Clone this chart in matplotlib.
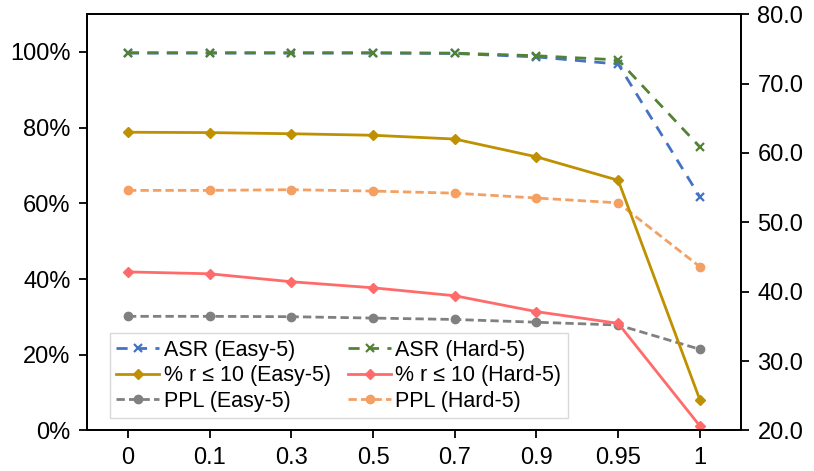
import matplotlib
matplotlib.use("Agg")
import matplotlib.pyplot as plt
from matplotlib.ticker import FuncFormatter

plt.rcParams['font.family'] = ['Liberation Sans', 'DejaVu Sans']

# x categories (evenly spaced)
labels = ['0', '0.1', '0.3', '0.5', '0.7', '0.9', '0.95', '1']

# left axis (fractions)
asr_easy = [0.997, 0.997, 0.997, 0.997, 0.996, 0.987, 0.968, 0.617]
asr_hard = [0.998, 0.998, 0.998, 0.998, 0.997, 0.990, 0.979, 0.749]
r10_easy = [0.788, 0.787, 0.784, 0.780, 0.770, 0.723, 0.661, 0.081]
r10_hard = [0.419, 0.414, 0.393, 0.377, 0.356, 0.314, 0.283, 0.012]

# right axis (PPL)
ppl_easy = [36.45, 36.45, 36.4, 36.2, 36.0, 35.6, 35.2, 31.7]
ppl_hard = [54.6, 54.6, 54.7, 54.5, 54.2, 53.5, 52.8, 43.6]

x = list(range(len(labels)))

fig = plt.figure(figsize=(8.14, 4.71), dpi=100)
ax = fig.add_axes([0.107, 0.086, 0.803, 0.884])
ax2 = ax.twinx()

lw = 2.0
h1, = ax.plot(x, asr_easy, color='#4472C4', ls=(0, (4, 3)), lw=lw, marker='x', ms=6, mew=1.6, label='ASR (Easy-5)')
h2, = ax.plot(x, asr_hard, color='#548235', ls=(0, (4, 3)), lw=lw, marker='x', ms=6, mew=1.6, label='ASR (Hard-5)')
h3, = ax.plot(x, r10_easy, color='#BF9000', ls='-', lw=lw, marker='D', ms=5, label='% r ≤ 10 (Easy-5)')
h4, = ax.plot(x, r10_hard, color='#FF6B6B', ls='-', lw=lw, marker='D', ms=5, label='% r ≤ 10 (Hard-5)')
h5, = ax2.plot(x, ppl_easy, color='#808080', ls=(0, (3, 1.5)), lw=lw, marker='o', ms=6, label='PPL (Easy-5)')
h6, = ax2.plot(x, ppl_hard, color='#F4A062', ls=(0, (3, 1.5)), lw=lw, marker='o', ms=6, label='PPL (Hard-5)')

ax.set_xlim(-0.5, len(labels) - 0.5)
ax.set_ylim(0, 1.1)
ax.set_yticks([0, 0.2, 0.4, 0.6, 0.8, 1.0])
ax.yaxis.set_major_formatter(FuncFormatter(lambda v, p: '%d%%' % round(v * 100)))
ax.set_xticks(x)
ax.set_xticklabels(labels)

ax2.set_ylim(20, 80)
ax2.set_yticks([20, 30, 40, 50, 60, 70, 80])
ax2.yaxis.set_major_formatter(FuncFormatter(lambda v, p: '%.1f' % v))

for a in (ax, ax2):
    for s in a.spines.values():
        s.set_linewidth(1.3)
    a.tick_params(direction='out', length=6, width=1.3, labelsize=17, pad=6)

# row-wise order: matplotlib fills legend columns first
ax.legend(handles=[h1, h3, h5, h2, h4, h6], ncol=2, loc='lower left',
          bbox_to_anchor=(0.035, 0.03), borderaxespad=0, fontsize=15.5,
          fancybox=False, edgecolor='#d9d9d9', framealpha=1,
          handlelength=2.0, handletextpad=0.2, columnspacing=0.8,
          labelspacing=0.2, borderpad=0.3)
ax.set_zorder(ax2.get_zorder() + 1)
ax.patch.set_visible(False)

fig.savefig('out.png', dpi=100)
